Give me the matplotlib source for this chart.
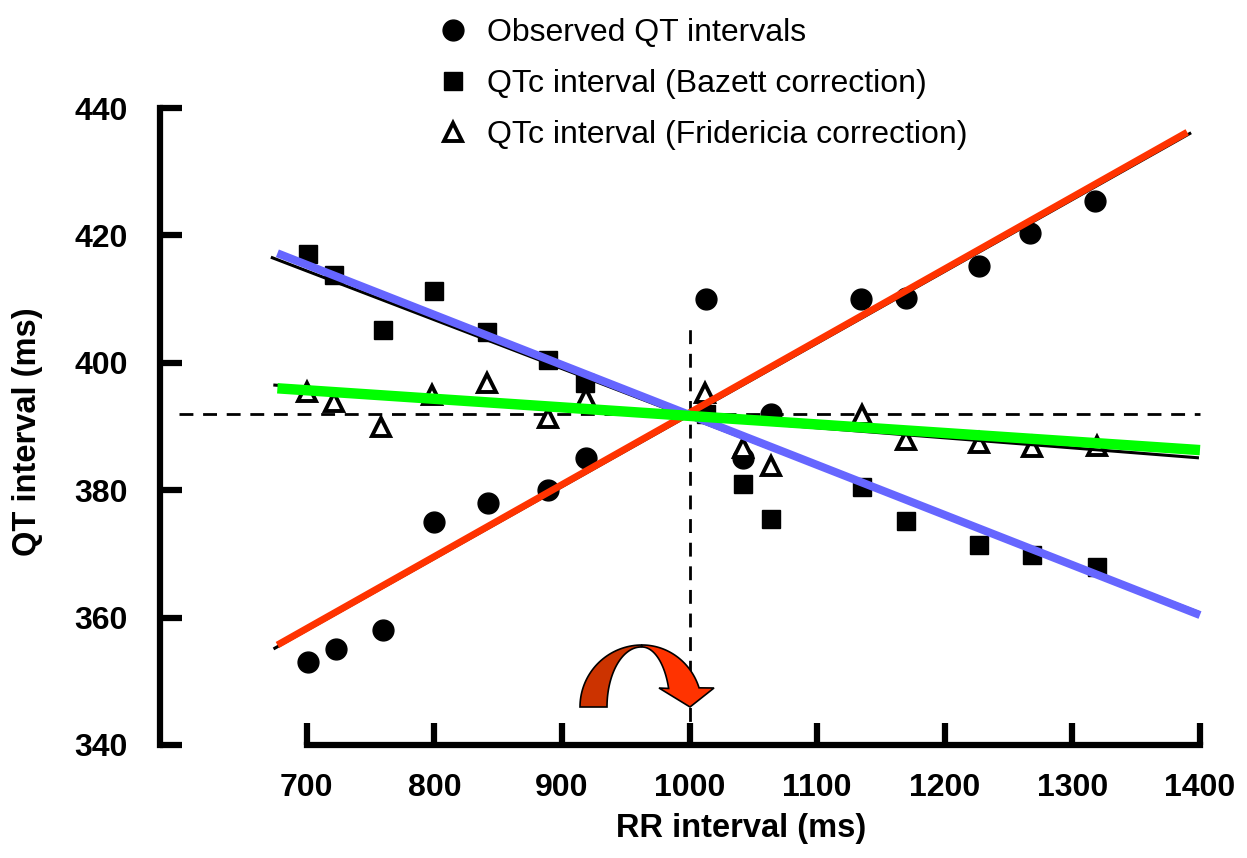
import numpy as np
import matplotlib.pyplot as plt
from matplotlib.patches import Polygon

plt.rcParams["font.family"] = ["Liberation Sans", "DejaVu Sans"]

# observed QT intervals (circles)
rr_obs = [701, 723, 760, 800, 842, 889, 919, 1013, 1042, 1064, 1134, 1170, 1227, 1267, 1318]
qt_obs = [353, 355, 358, 375, 378, 380, 385, 410, 385, 392, 410, 410.2, 415.2, 420.4, 425.4]

# QTc, Bazett correction (squares)
rr_baz = [701, 721, 760, 800, 841, 889, 918, 1013, 1042, 1064, 1135, 1170, 1227, 1268, 1319]
qt_baz = [417.1, 413.8, 405.1, 411.3, 404.8, 400.4, 396.8, 392, 381, 375.5, 380.5, 375.2, 371.4, 369.8, 367.9]

# QTc, Fridericia correction (open triangles)
rr_frid = [700, 721, 758, 798, 841, 889, 919, 1012, 1042, 1064, 1135, 1170, 1227, 1268, 1319]
qt_frid = [395.4, 393.8, 389.9, 395, 396.8, 391.3, 394.5, 395.3, 386.6, 383.8, 391.8, 387.9, 387.4, 386.8, 387]

# regression lines (original black + coloured overlay)
fit_obs_x, fit_obs_y = [675, 1392], [355.2, 436.0]
fit_baz_x, fit_baz_y = [673, 1398], [416.5, 360.9]
fit_frid_x, fit_frid_y = [675, 1398], [396.5, 385.1]
red_x, red_y = [677, 1390], [355.7, 436.2]
blue_x, blue_y = [677, 1400], [417.2, 360.4]
green_x, green_y = [677, 1400], [396.0, 386.3]

ref_rr = 1000
ref_qt = 392

x_ticks = [700, 800, 900, 1000, 1100, 1200, 1300, 1400]
y_ticks = [340, 360, 380, 400, 420, 440]

W, H = 1247, 858
fig = plt.figure(figsize=(W / 100, H / 100), dpi=100)
ax = fig.add_axes([160 / W, 113 / H, 1065.5 / W, 649.7 / H])
ax.set_xlim(585, 1420)
ax.set_ylim(340, 442)

# reference dashed lines
ax.plot([600, 1400], [ref_qt, ref_qt], color="black", lw=2, ls=(0, (5, 3.5)), zorder=1)
ax.plot([ref_rr, ref_rr], [340, 406], color="black", lw=2, ls=(0, (5, 3.5)), zorder=1)

ax.plot(rr_obs, qt_obs, "o", color="black", ms=15, ls="none", zorder=3,
        label="Observed QT intervals", clip_on=False)
ax.plot(rr_baz, qt_baz, "s", color="black", ms=13.5, ls="none", zorder=3,
        label="QTc interval (Bazett correction)")
ax.plot(rr_frid, qt_frid, "^", mfc="white", mec="black", mew=2.8, ms=13, ls="none",
        zorder=3, label="QTc interval (Fridericia correction)")

for fx, fy in [(fit_obs_x, fit_obs_y), (fit_baz_x, fit_baz_y), (fit_frid_x, fit_frid_y)]:
    ax.plot(fx, fy, color="black", lw=2.2, zorder=4)
ax.plot(red_x, red_y, color="#ff3300", lw=5, zorder=5, solid_capstyle="butt")
ax.plot(blue_x, blue_y, color="#6666ff", lw=5.8, zorder=5, solid_capstyle="butt")
ax.plot(green_x, green_y, color="#00ff00", lw=7.5, zorder=5, solid_capstyle="butt")

# axes styling
for s in ["top", "right"]:
    ax.spines[s].set_visible(False)
ax.spines["left"].set_bounds(340, 440)
ax.spines["bottom"].set_bounds(700, 1400)
ax.spines["left"].set_linewidth(4.5)
ax.spines["bottom"].set_linewidth(4.5)
ax.set_xticks(x_ticks)
ax.set_yticks(y_ticks)
ax.tick_params(axis="both", direction="in", length=16, width=4.5, labelsize=23)
ax.tick_params(axis="y", pad=23)
ax.tick_params(axis="x", pad=20)
for lab in ax.get_xticklabels() + ax.get_yticklabels():
    lab.set_fontweight("bold")

ax.set_xlabel("RR interval (ms)", fontsize=23.5, fontweight="bold", va="center")
ax.xaxis.set_label_coords(0.545, -0.128)
ax.set_ylabel("QT interval (ms)", fontsize=23.5, fontweight="bold", va="center")
ax.yaxis.set_label_coords(-0.124, 0.482)

ax.legend(loc="upper left", bbox_to_anchor=(437 / W, 1 - 18 / H), bbox_transform=fig.transFigure,
          frameon=False, fontsize=23, handlelength=1.0, handletextpad=0.56,
          labelspacing=0.66, borderpad=0, borderaxespad=0, numpoints=1)


# curved red arrow (decoration, drawn in figure pixels)
def to_fig(pts):
    pts = np.asarray(pts, dtype=float)
    return np.column_stack([pts[:, 0] / W, 1 - pts[:, 1] / H])


def arc(cx, cy, rx, ry, a0, a1, n=40):
    t = np.radians(np.linspace(a0, a1, n))
    return np.column_stack([cx + rx * np.cos(t), cy - ry * np.sin(t)])


left = np.vstack([arc(642, 707, 62, 62, 180, 90), arc(641, 707, 34, 60, 90, 180)])
right = np.vstack([arc(642, 707, 60, 62, 90, 18), [[714, 688], [690, 707], [659, 688]],
                   arc(642, 707, 28, 60, 18, 90)])
fig.patches.append(Polygon(to_fig(left), closed=True, fc="#cc3300", ec="black", lw=1.2,
                           transform=fig.transFigure, zorder=6))
fig.patches.append(Polygon(to_fig(right), closed=True, fc="#ff3300", ec="black", lw=1.2,
                           transform=fig.transFigure, zorder=6))

fig.savefig("out.png", dpi=100)
